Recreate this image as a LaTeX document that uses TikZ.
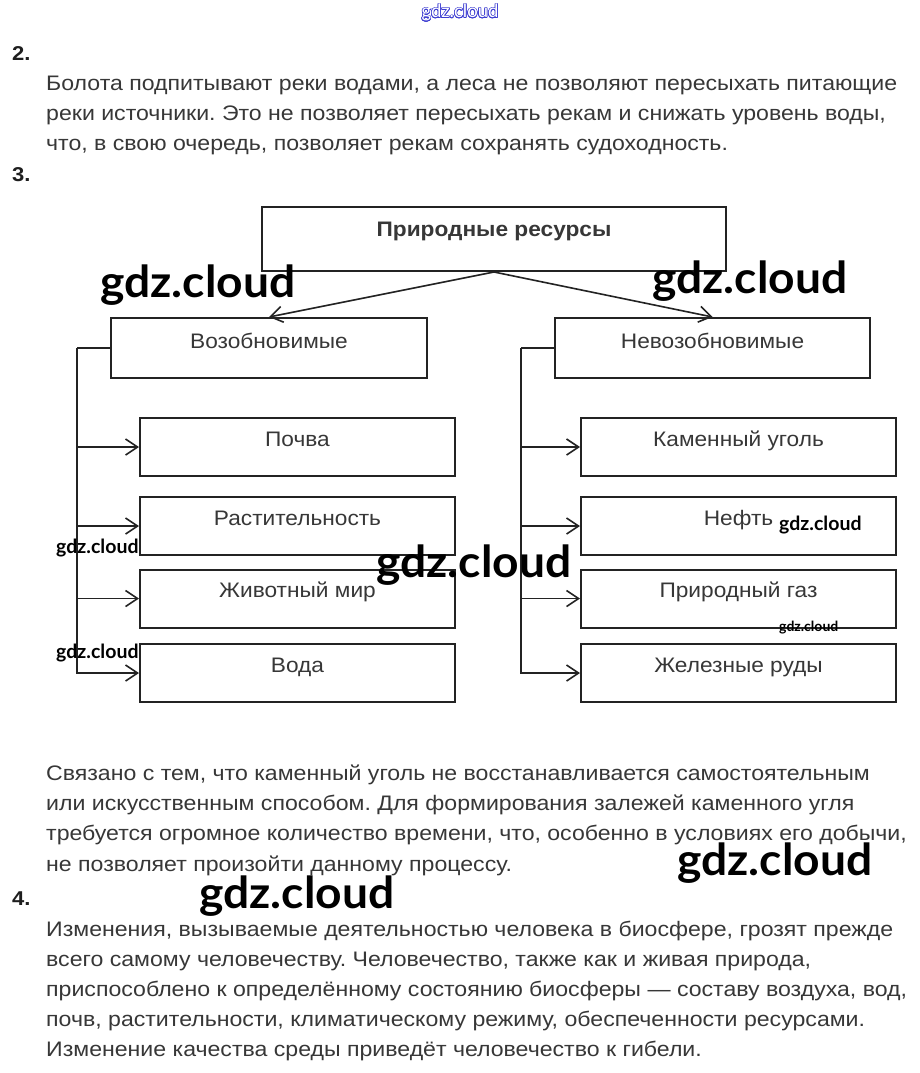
\documentclass[tikz,border=0pt]{standalone}
\usepackage{fontspec}
\usepackage{contour}
\usetikzlibrary{arrows.meta}
\setmainfont{Liberation Sans}
\newfontfamily\boxfont[FakeStretch=1.08]{Liberation Sans}
\newfontfamily\parafont[FakeStretch=1.1]{Liberation Sans}
\newfontfamily\wmfont{Lato}
\newfontfamily\wmwide[FakeStretch=1.05]{Lato}
\definecolor{txt}{RGB}{55,55,55}
\definecolor{numc}{RGB}{30,30,30}
\definecolor{lncol}{RGB}{35,35,35}
\definecolor{wmblue}{RGB}{60,60,210}
\contourlength{0.55pt}
\contournumber{16}
\frenchspacing
\tikzset{
  bx/.style={draw=lncol, line width=2pt, inner sep=0pt, text=txt,
    font=\boxfont\fontsize{21}{21}\selectfont},
  chbox/.style={bx, minimum width=315pt, minimum height=58pt, text height=28pt, text depth=30pt},
  conn/.style={draw=lncol, line width=1.6pt},
  arr/.style={conn, -{Straight Barb[length=12pt,width=16pt,line width=1.6pt]}},
  para/.style={anchor=base west, inner sep=0pt, text=txt, font=\parafont\fontsize{21}{21}\selectfont},
  numlbl/.style={anchor=base west, inner sep=0pt, text=numc, font=\parafont\bfseries\fontsize{20}{20}\selectfont},
  wmbig/.style={anchor=base west, inner sep=0pt, text=black, font=\wmwide\bfseries\fontsize{44}{44}\selectfont},
  wmsmall/.style={anchor=base west, inner sep=0pt, text=black, font=\wmfont\bfseries\fontsize{19.5}{19.5}\selectfont},
  wmtiny/.style={anchor=base west, inner sep=0pt, text=black, font=\wmfont\bfseries\fontsize{14}{14}\selectfont},
}
\begin{document}
\begin{tikzpicture}[x=1pt,y=-1pt]
\useasboundingbox[fill=white] (0,0) rectangle (919,1073);

% top watermark
\node[anchor=base, inner sep=0pt, font=\wmfont\fontsize{18.5}{18.5}\selectfont] (wmtop) at (460,18) {\contour{wmblue}{\textcolor{white}{gdz.cloud}}};

% question 2
\node[numlbl] (n2) at (12,60) {2.};
\node[para] (p2a) at (46,90) {Болота подпитывают реки водами, а леса не позволяют пересыхать питающие};
\node[para] (p2b) at (46,120) {реки источники. Это не позволяет пересыхать рекам и снижать уровень воды,};
\node[para] (p2c) at (46,150) {что, в свою очередь, позволяет рекам сохранять судоходность.};
\node[numlbl] (n3) at (12,181) {3.};

% diagram
\node[bx, minimum width=464pt, minimum height=64pt, text height=29pt, text depth=35pt,
      font=\boxfont\bfseries\fontsize{21}{21}\selectfont] (res) at (494,239) {Природные ресурсы};
\node[bx, minimum width=316pt, minimum height=60pt, text height=30pt, text depth=30pt] (voz) at (269,348) {Возобновимые};
\node[bx, minimum width=315pt, minimum height=60pt, text height=30pt, text depth=30pt] (nevoz) at (712.5,348) {Невозобновимые};

\node[chbox] (pochva) at (297.5,447) {Почва};
\node[chbox] (rast) at (297.5,526) {Растительность};
\node[chbox] (zhiv) at (297.5,598.5) {Животный мир};
\node[chbox] (voda) at (297.5,673) {Вода};

\node[chbox] (ugol) at (738.5,447) {Каменный уголь};
\node[chbox] (neft) at (738.5,526) {Нефть};
\node[chbox] (gaz) at (738.5,598.5) {Природный газ};
\node[chbox] (ruda) at (738.5,673) {Железные руды};

\draw[arr] (res.south) -- (voz.north);
\draw[arr] (res.south) -- (nevoz.north);

\coordinate (lt) at (77,348);
\coordinate (rt) at (521,348);
\draw[conn] (voz.west) -- (lt);
\draw[arr] (lt) |- (voda.west);
\draw[arr] (lt |- pochva.west) -- (pochva.west);
\draw[arr] (lt |- rast.west) -- (rast.west);
\draw[arr] (lt |- zhiv.west) -- (zhiv.west);

\draw[conn] (nevoz.west) -- (rt);
\draw[arr] (rt) |- (ruda.west);
\draw[arr] (rt |- ugol.west) -- (ugol.west);
\draw[arr] (rt |- neft.west) -- (neft.west);
\draw[arr] (rt |- gaz.west) -- (gaz.west);

% text after diagram
\node[para] (p3a) at (46,780) {Связано с тем, что каменный уголь не восстанавливается самостоятельным};
\node[para] (p3b) at (46,810) {или искусственным способом. Для формирования залежей каменного угля};
\node[para] (p3c) at (46,840) {требуется огромное количество времени, что, особенно в условиях его добычи,};
\node[para] (p3d) at (46,871) {не позволяет произойти данному процессу.};

\node[numlbl] (n4) at (12,905) {4.};
\node[para] (p4a) at (46,936) {Изменения, вызываемые деятельностью человека в биосфере, грозят прежде};
\node[para] (p4b) at (46,966) {всего самому человечеству. Человечество, также как и живая природа,};
\node[para] (p4c) at (46,996) {приспособлено к определённому состоянию биосферы — составу воздуха, вод,};
\node[para] (p4d) at (46,1026) {почв, растительности, климатическому режиму, обеспеченности ресурсами.};
\node[para] (p4e) at (46,1056) {Изменение качества среды приведёт человечество к гибели.};

% watermarks
\node[wmbig] (wm1) at (100,297) {gdz.cloud};
\node[wmbig] (wm2) at (652,293) {gdz.cloud};
\node[wmbig] (wm3) at (376,577) {gdz.cloud};
\node[wmbig] (wm4) at (677,875) {gdz.cloud};
\node[wmbig] (wm5) at (199,908) {gdz.cloud};
\node[wmsmall] (wm6) at (56,553) {gdz.cloud};
\node[wmsmall] (wm7) at (56,658) {gdz.cloud};
\node[wmsmall] (wm8) at (779,530) {gdz.cloud};
\node[wmtiny] (wm9) at (779,631) {gdz.cloud};
\end{tikzpicture}
\end{document}
